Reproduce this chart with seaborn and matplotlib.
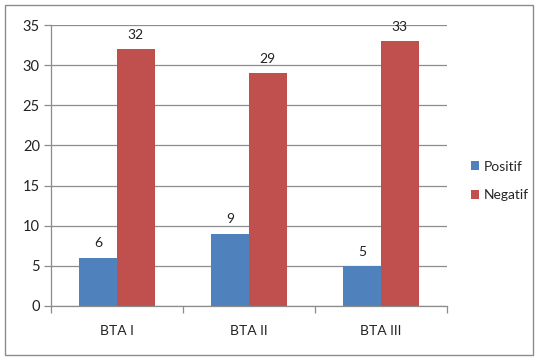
import matplotlib
matplotlib.use("Agg")
import matplotlib.pyplot as plt
from matplotlib.patches import Rectangle
from matplotlib.ticker import FixedLocator, NullFormatter
import seaborn as sns
import pandas as pd

categories = ["BTA I", "BTA II", "BTA III"]
positif = [6, 9, 5]
negatif = [32, 29, 33]
series_names = ["Positif", "Negatif"]
colors = ["#4F81BD", "#C0504D"]
y_ticks = [0, 5, 10, 15, 20, 25, 30, 35]

df = pd.DataFrame({
    "cat": categories * 2,
    "val": positif + negatif,
    "serie": [series_names[0]] * 3 + [series_names[1]] * 3,
})

sns.set_theme(style="white")
plt.rcParams["font.family"] = ["Lato", "DejaVu Sans"]

fig = plt.figure(figsize=(5.36, 3.58), dpi=100)
ax = fig.add_axes([0.0951, 0.1453, 0.834 - 0.0951, 0.930 - 0.1453])

sns.barplot(data=df, x="cat", y="val", hue="serie", palette=colors,
            width=0.57, gap=0, ax=ax, saturation=1, edgecolor="none")

# value labels
for cont in ax.containers:
    ax.bar_label(cont, padding=6, fontsize=10, color="#222222")

ax.set_ylim(0, 35)
ax.set_xlim(-0.5, 2.5)
ax.set_yticks(y_ticks)
ax.yaxis.grid(True, color="#8c8c8c", linewidth=0.9)
ax.set_axisbelow(True)

# category boundaries carry the ticks, labels sit at the centres
ax.xaxis.set_major_locator(FixedLocator([-0.5, 0.5, 1.5, 2.5]))
ax.xaxis.set_major_formatter(NullFormatter())
ax.xaxis.set_minor_locator(FixedLocator([0, 1, 2]))
ax.set_xticklabels(categories, minor=True)
ax.tick_params(axis="x", which="major", direction="out", length=5,
               color="#8c8c8c", width=0.9, bottom=True)
ax.tick_params(axis="x", which="minor", length=0, pad=14, labelsize=10,
               labelcolor="#222222")
ax.tick_params(axis="y", direction="out", length=5, color="#8c8c8c",
               width=0.9, left=True, labelsize=10.5, labelcolor="#222222", pad=3)

ax.set_xlabel("")
ax.set_ylabel("")
for s in ["top", "right"]:
    ax.spines[s].set_visible(False)
for s in ["left", "bottom"]:
    ax.spines[s].set_color("#8c8c8c")
    ax.spines[s].set_linewidth(0.9)

leg = ax.legend(loc="center left", bbox_to_anchor=(1.06, 0.445), frameon=False,
                fontsize=10, handlelength=0.6, handleheight=0.6,
                handletextpad=0.35, labelspacing=1.2, borderpad=0,
                borderaxespad=0)

# outer chart border
fig.patches.append(Rectangle((5 / 536, 3 / 358), 528 / 536, 350 / 358,
                             transform=fig.transFigure, fill=False,
                             edgecolor="#8c8c8c", linewidth=1.0))

fig.savefig("out.png", dpi=100)
